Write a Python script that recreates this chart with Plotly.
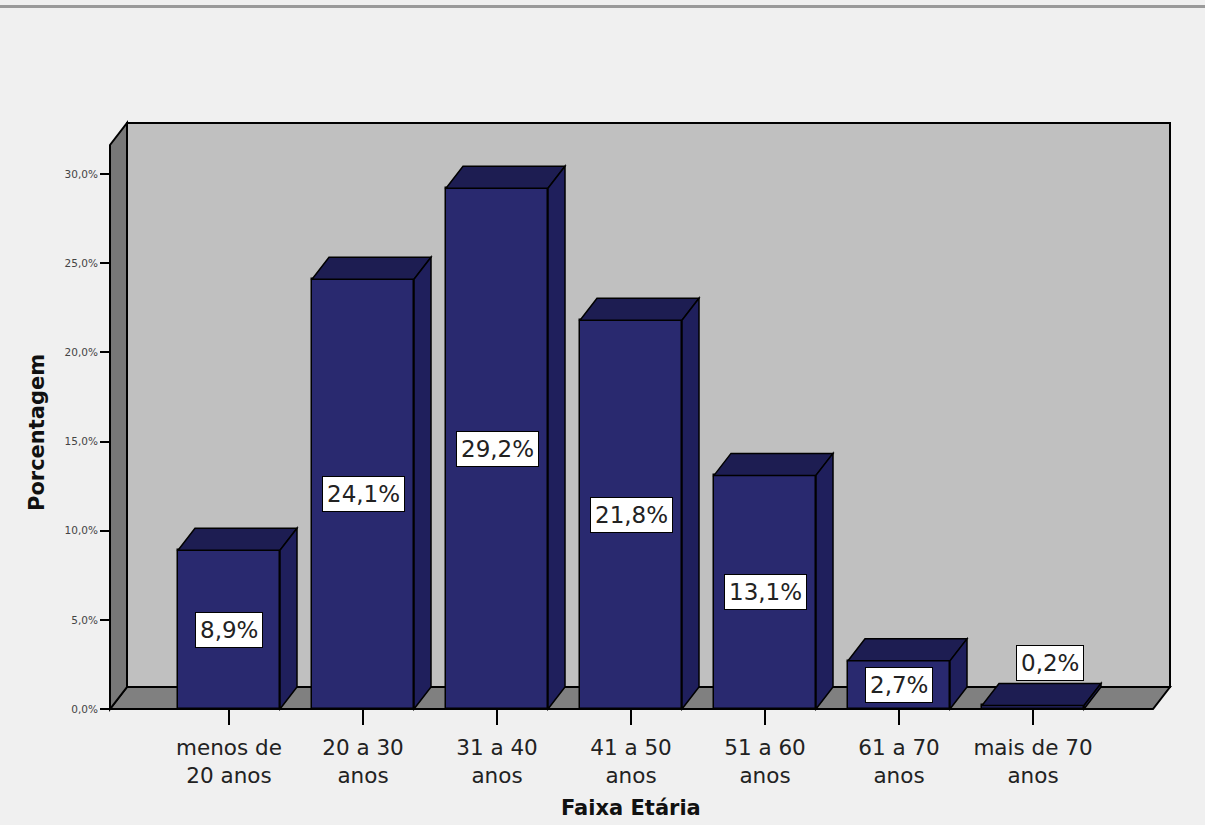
import plotly.graph_objects as go

# ---- data -------------------------------------------------------------
categories = ["menos de<br>20 anos", "20 a 30<br>anos", "31 a 40<br>anos",
              "41 a 50<br>anos", "51 a 60<br>anos", "61 a 70<br>anos",
              "mais de 70<br>anos"]
percent = [8.9, 24.1, 29.2, 21.8, 13.1, 2.7, 0.2]
value_labels = ["8,9%", "24,1%", "29,2%", "21,8%", "13,1%", "2,7%", "0,2%"]
y_ticks = [0, 5, 10, 15, 20, 25, 30]
y_tick_labels = ["0,0%", "5,0%", "10,0%", "15,0%", "20,0%", "25,0%", "30,0%"]

# ---- geometry (pixel layout of the pseudo-3D box) ----------------------
W, H = 1205, 825
PL, PR, PT, PB = 104, 1176, 117, 715          # plot area in pixels
X0_PX, X_STEP = 229, 134                      # first category centre, spacing
Y0_PX, Y_PER = 709, 535 / 30                  # 0 % line and px per %

def xd(px):
    return (px - X0_PX) / X_STEP

def yd(py):
    return (Y0_PX - py) / Y_PER

XMIN, XMAX = xd(PL), xd(PR)
YMIN, YMAX = yd(PB), yd(PT)

XF = xd(110)          # front-left edge of the box
XB = xd(1170)         # back-right edge of the box
YT = yd(123)          # top of the back wall
DX = 17 / X_STEP      # depth offset
DY = 22 / Y_PER
BW = 102 / X_STEP     # bar width

FRONT = "#29296F"
TOP = "#1D1D52"
SIDE = "#1F1F5C"
EDGE = "black"
FONT = "DejaVu Sans, Arial, sans-serif"

idx = list(range(len(percent)))

fig = go.Figure()
fig.add_trace(go.Bar(
    x=idx, y=percent, width=BW,
    marker=dict(color=FRONT, line=dict(color=EDGE, width=1.5)),
    hoverinfo="skip", showlegend=False,
))

shapes = []
# back wall
shapes.append(dict(type="rect", xref="x", yref="y", layer="below",
                   x0=XF + DX, x1=XB, y0=DY, y1=YT,
                   fillcolor="#C0C0C0", line=dict(color=EDGE, width=2)))
# floor
shapes.append(dict(type="path", xref="x", yref="y", layer="below",
                   path=f"M {XF},0 L {XB - DX},0 L {XB},{DY} L {XF + DX},{DY} Z",
                   fillcolor="#808080", line=dict(color=EDGE, width=2)))
# left wall
shapes.append(dict(type="path", xref="x", yref="y", layer="below",
                   path=f"M {XF},0 L {XF},{YT - DY} L {XF + DX},{YT} L {XF + DX},{DY} Z",
                   fillcolor="#787878", line=dict(color=EDGE, width=2)))

# top and side faces of each bar
for i, v in zip(idx, percent):
    x0, x1 = i - BW / 2, i + BW / 2
    shapes.append(dict(type="path", xref="x", yref="y", layer="above",
                       path=f"M {x0},{v} L {x1},{v} L {x1 + DX},{v + DY} L {x0 + DX},{v + DY} Z",
                       fillcolor=TOP, line=dict(color=EDGE, width=1.5)))
    shapes.append(dict(type="path", xref="x", yref="y", layer="above",
                       path=f"M {x1},0 L {x1},{v} L {x1 + DX},{v + DY} L {x1 + DX},{DY} Z",
                       fillcolor=SIDE, line=dict(color=EDGE, width=1.5)))

# thin rule along the top of the page
shapes.append(dict(type="line", xref="paper", yref="paper",
                   x0=-PL / (PR - PL), x1=(W - PL) / (PR - PL),
                   y0=(PB - 6.5) / (PB - PT), y1=(PB - 6.5) / (PB - PT),
                   line=dict(color="#9A9A9A", width=3)))

annotations = []
for i, v, t in zip(idx, percent, value_labels):
    if v >= 1:
        ax, ay, anchor, shift = i, v / 2, "middle", 0
    else:
        ax, ay, anchor, shift = i + DX, v + DY, "bottom", 2
    annotations.append(dict(
        x=ax, y=ay, xref="x", yref="y", text=t, showarrow=False,
        yanchor=anchor, yshift=shift,
        font=dict(family=FONT, size=23, color="#222222"),
        bgcolor="white", bordercolor="black", borderwidth=1, borderpad=4,
    ))

# axis titles
annotations.append(dict(
    text="<b>Porcentagem</b>", textangle=-90, showarrow=False,
    xref="paper", yref="paper", xanchor="center", yanchor="middle",
    x=(37 - PL) / (PR - PL), y=(PB - 433) / (PB - PT),
    font=dict(family=FONT, size=21, color="#111111"),
))
annotations.append(dict(
    text="<b>Faixa Etária</b>", showarrow=False,
    xref="paper", yref="paper", xanchor="center", yanchor="middle",
    x=(631 - PL) / (PR - PL), y=(PB - 808) / (PB - PT),
    font=dict(family=FONT, size=21, color="#111111"),
))

fig.update_layout(
    width=W, height=H,
    margin=dict(l=PL, r=W - PR, t=PT, b=H - PB, pad=0),
    paper_bgcolor="#F0F0F0", plot_bgcolor="rgba(0,0,0,0)",
    shapes=shapes, annotations=annotations,
    bargap=0, showlegend=False,
    xaxis=dict(
        range=[XMIN, XMAX], tickvals=idx, ticktext=categories,
        showgrid=False, zeroline=False, showline=False,
        ticks="outside", ticklen=15, tickwidth=1.5, tickcolor="black",
        ticklabelstandoff=4,
        anchor="free", position=(PB - Y0_PX) / (PB - PT),
        tickfont=dict(family=FONT, size=21.5, color="#222222"),
        fixedrange=True,
    ),
    yaxis=dict(
        range=[YMIN, YMAX], tickvals=y_ticks, ticktext=y_tick_labels,
        showgrid=False, zeroline=False, showline=False,
        ticks="outside", ticklen=10, tickwidth=1.5, tickcolor="black",
        anchor="free", position=(110 - PL) / (PR - PL),
        tickfont=dict(family=FONT, size=10.5, color="#444444"),
        fixedrange=True,
    ),
)

fig.write_html("out.html")
